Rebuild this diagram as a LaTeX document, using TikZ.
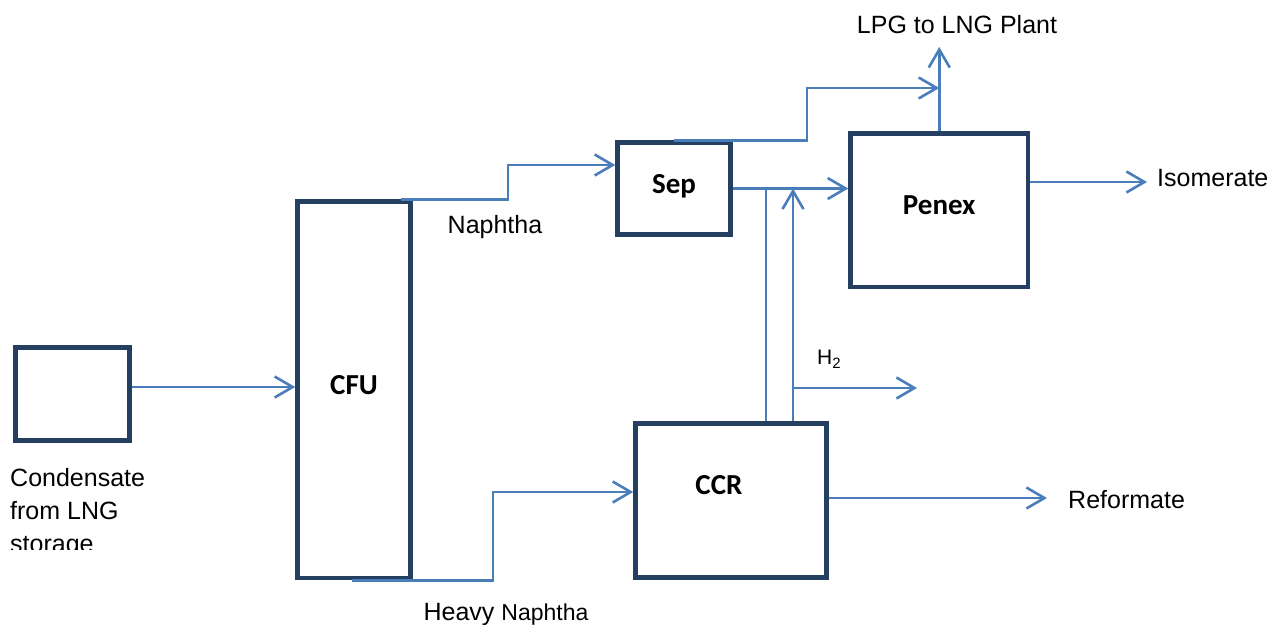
\documentclass[tikz,border=0pt]{standalone}
\usepackage{fontspec}
\setmainfont{Liberation Sans}
\newfontfamily\calibri{Carlito}
\usetikzlibrary{arrows.meta}
\definecolor{unitline}{HTML}{243F60}
\definecolor{flowline}{HTML}{4A7EBB}
\begin{document}
\begin{tikzpicture}[x=1pt,y=-1pt,
  unitname/.style={inner sep=0pt,font=\calibri\bfseries\fontsize{29}{34}\selectfont},
  unit/.style={unitname,draw=unitline,line width=4.5pt,text depth=10pt},
  pipe/.style={draw=flowline,line width=2.6pt},
  flow/.style={pipe,-{Straight Barb[length=18pt,width=21pt]}},
  tag/.style={inner sep=0pt,font=\fontsize{25}{32}\selectfont}]
\useasboundingbox (0,0) rectangle (1277,624);
\node[unit,minimum width=114pt,minimum height=93pt] (tank) at (72.5,394) {};
\node[unit,minimum width=113pt,minimum height=376.5pt] (cfu) at (354,389.75) {CFU};
\node[unit,minimum width=113pt,minimum height=92pt] (sep) at (674,188.5) {Sep};
\node[unit,minimum width=177.5pt,minimum height=153.5pt] (penex) at (939.25,210.25) {Penex};
\node[unit,minimum width=191pt,minimum height=154pt] (ccr) at (731,500.5) {};
\node[unitname] (ccrname) at (719,485) {CCR};
\node[tag,anchor=base] (lpg) at (957,33) {LPG to LNG Plant};
\node[tag,anchor=base west] (isomerate) at (1157,186) {Isomerate};
\node[tag,anchor=base west] (reformate) at (1068,508) {Reformate};
\node[tag,anchor=base] (naphtha) at (495,233) {Naphtha};
\node[tag,anchor=base] (heavy) at (506,620) {Heavy {\fontsize{23}{28}\selectfont Naphtha}};
\node[tag,anchor=base west,font=\fontsize{21}{24}\selectfont] (h2) at (817,364) {H\raisebox{-4pt}{\fontsize{15}{18}\selectfont 2}};
\begin{scope}
\clip (0,440) rectangle (300,549);
\node[tag,anchor=north west,align=left,font=\fontsize{25}{33}\selectfont] (feed) at (10,468) {Condensate\\from LNG\\storage};
\end{scope}
\coordinate (feedout) at ([yshift=7pt]tank.east);
\coordinate (htap) at (793,388);
\draw[flow] (feedout) -- (feedout -| cfu.west);
\draw[flow] ([xshift=-12pt]cfu.north east) -| (508,165) -- (sep.west |- 0,165);
\draw[flow] ([xshift=-2pt]cfu.south) -| (493,492) -- (ccr.west |- 0,492);
\draw[flow] (sep.north) -| (807,88) -- (penex.north |- 0,88);
\draw[flow] (penex.north) -- (penex.north |- 0,47);
\draw[flow] (sep.east) -- (sep.east -| penex.west);
\draw[pipe] (ccr.north -| 766,0) -- (sep.east -| 766,0);
\draw[flow] (ccr.north -| 793,0) -- (sep.east -| 793,0);
\draw[flow] (htap) -- (htap -| 917,0);
\draw[flow,shorten >=10pt] (penex.east |- 0,182) -- (isomerate.west |- 0,182);
\draw[flow,shorten >=21pt] (ccr.east |- 0,498) -- (reformate.west |- 0,498);
\end{tikzpicture}
\end{document}
